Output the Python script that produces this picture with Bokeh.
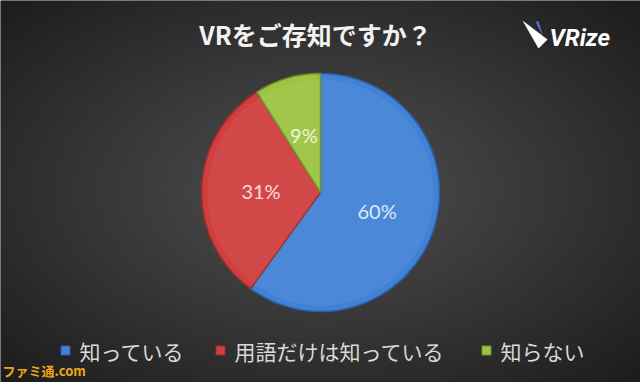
import numpy as np
from bokeh.plotting import figure
from bokeh.models import Range1d
from bokeh.embed import file_html
from bokeh.resources import INLINE
from bokeh.core.properties import value

# ---- data ----
categories = ["知っている", "用語だけは知っている", "知らない"]
shares = [60, 31, 9]
pct_labels = ["60%", "31%", "9%"]

# ---- styles ----
fill_colors = ["#4282d6", "#d03f3f", "#9cc441"]
edge_colors = ["#2b5fa6", "#9e2b2b", "#6f8f2a"]
label_colors = ["#dde8f8", "#f8dcdc", "#eef6d8"]
legend_x = [65, 220, 486]

W, H = 640, 382
CJK = "Noto Sans CJK JP"

p = figure(width=W, height=H, x_range=Range1d(0, W), y_range=Range1d(0, H),
           output_backend="svg", toolbar_location=None, min_border=0)
p.axis.visible = False
p.grid.visible = False
p.outline_line_color = None
p.background_fill_color = "#2e2e2e"
p.border_fill_color = "#2e2e2e"

# dark radial backdrop, lighter towards the middle
ny, nx = 191, 320
yy, xx = np.mgrid[0:ny, 0:nx]
d = np.sqrt(((xx - nx / 2) / (nx / 2)) ** 2 + ((yy - ny / 2) / (ny / 2)) ** 2) / np.sqrt(2)
lum = np.clip(78 - 50 * d ** 1.1, 0, 255).astype(np.uint32)
img = (255 << 24) | (lum << 16) | (lum << 8) | lum
p.image_rgba(image=[img.astype(np.uint32)], x=0, y=0, dw=W, dh=H)

# ---- pie ----
cx, cy, r = 320, 190, 119
total = float(sum(shares))
starts, ends = [], []
acc = 0.0
for s in shares:
    a0 = np.pi / 2 - 2 * np.pi * acc / total
    a1 = a0 - 2 * np.pi * s / total
    starts.append(a0)
    ends.append(a1)
    acc += s

p.wedge(x=cx, y=cy, radius=r, start_angle=starts, end_angle=ends,
        direction="clock", fill_color=fill_colors, line_color=edge_colors,
        line_width=1.5)
# soft inner sheen on each slice
p.wedge(x=cx, y=cy, radius=r - 6, start_angle=starts, end_angle=ends,
        direction="clock", fill_color="white", fill_alpha=0.05, line_color=None)

mids = [(a + b) / 2 for a, b in zip(starts, ends)]
lx = [cx + 0.5 * r * np.cos(m) for m in mids]
ly = [cy + 0.5 * r * np.sin(m) for m in mids]
p.text(x=lx, y=ly, text=pct_labels, text_color=label_colors,
       text_font=value("Lato"), text_font_size="20px",
       text_align="center", text_baseline="middle")

# ---- title ----
p.text(x=[315], y=[349], text=["VRをご存知ですか？"], text_color="#f2f2f2",
       text_font=value(CJK), text_font_style="bold", text_font_size="25px",
       text_align="center", text_baseline="middle")

# ---- logo ----
p.patch(x=[522, 547, 538], y=[H - 20, H - 39, H - 48], fill_color="white",
        line_color=None)
p.patch(x=[535, 538, 543], y=[H - 21, H - 21, H - 37], fill_color="#5b6de6",
        line_color=None)
p.text(x=[549], y=[H - 37], text=["VRize"], text_color="white",
       text_font=value("Roboto"), text_font_style="bold italic",
       text_font_size="24px", text_align="left", text_baseline="middle")

# ---- legend ----
leg_y = H - 350
p.scatter(x=legend_x, y=[leg_y] * 3, marker="square", size=9,
          fill_color=fill_colors, line_color=edge_colors, line_width=1)
p.text(x=[x + 14 for x in legend_x], y=[leg_y] * 3, text=categories,
       text_color="#d9d9d9", text_font=value(CJK), text_font_size="21px",
       text_align="left", text_baseline="middle")

# ---- site mark ----
p.text(x=[2], y=[12], text=["ファミ通.com"], text_color="#f0a41c",
       text_font=value(CJK), text_font_style="bold", text_font_size="13px",
       text_align="left", text_baseline="middle")

open("out.html", "w").write(file_html(p, INLINE))
